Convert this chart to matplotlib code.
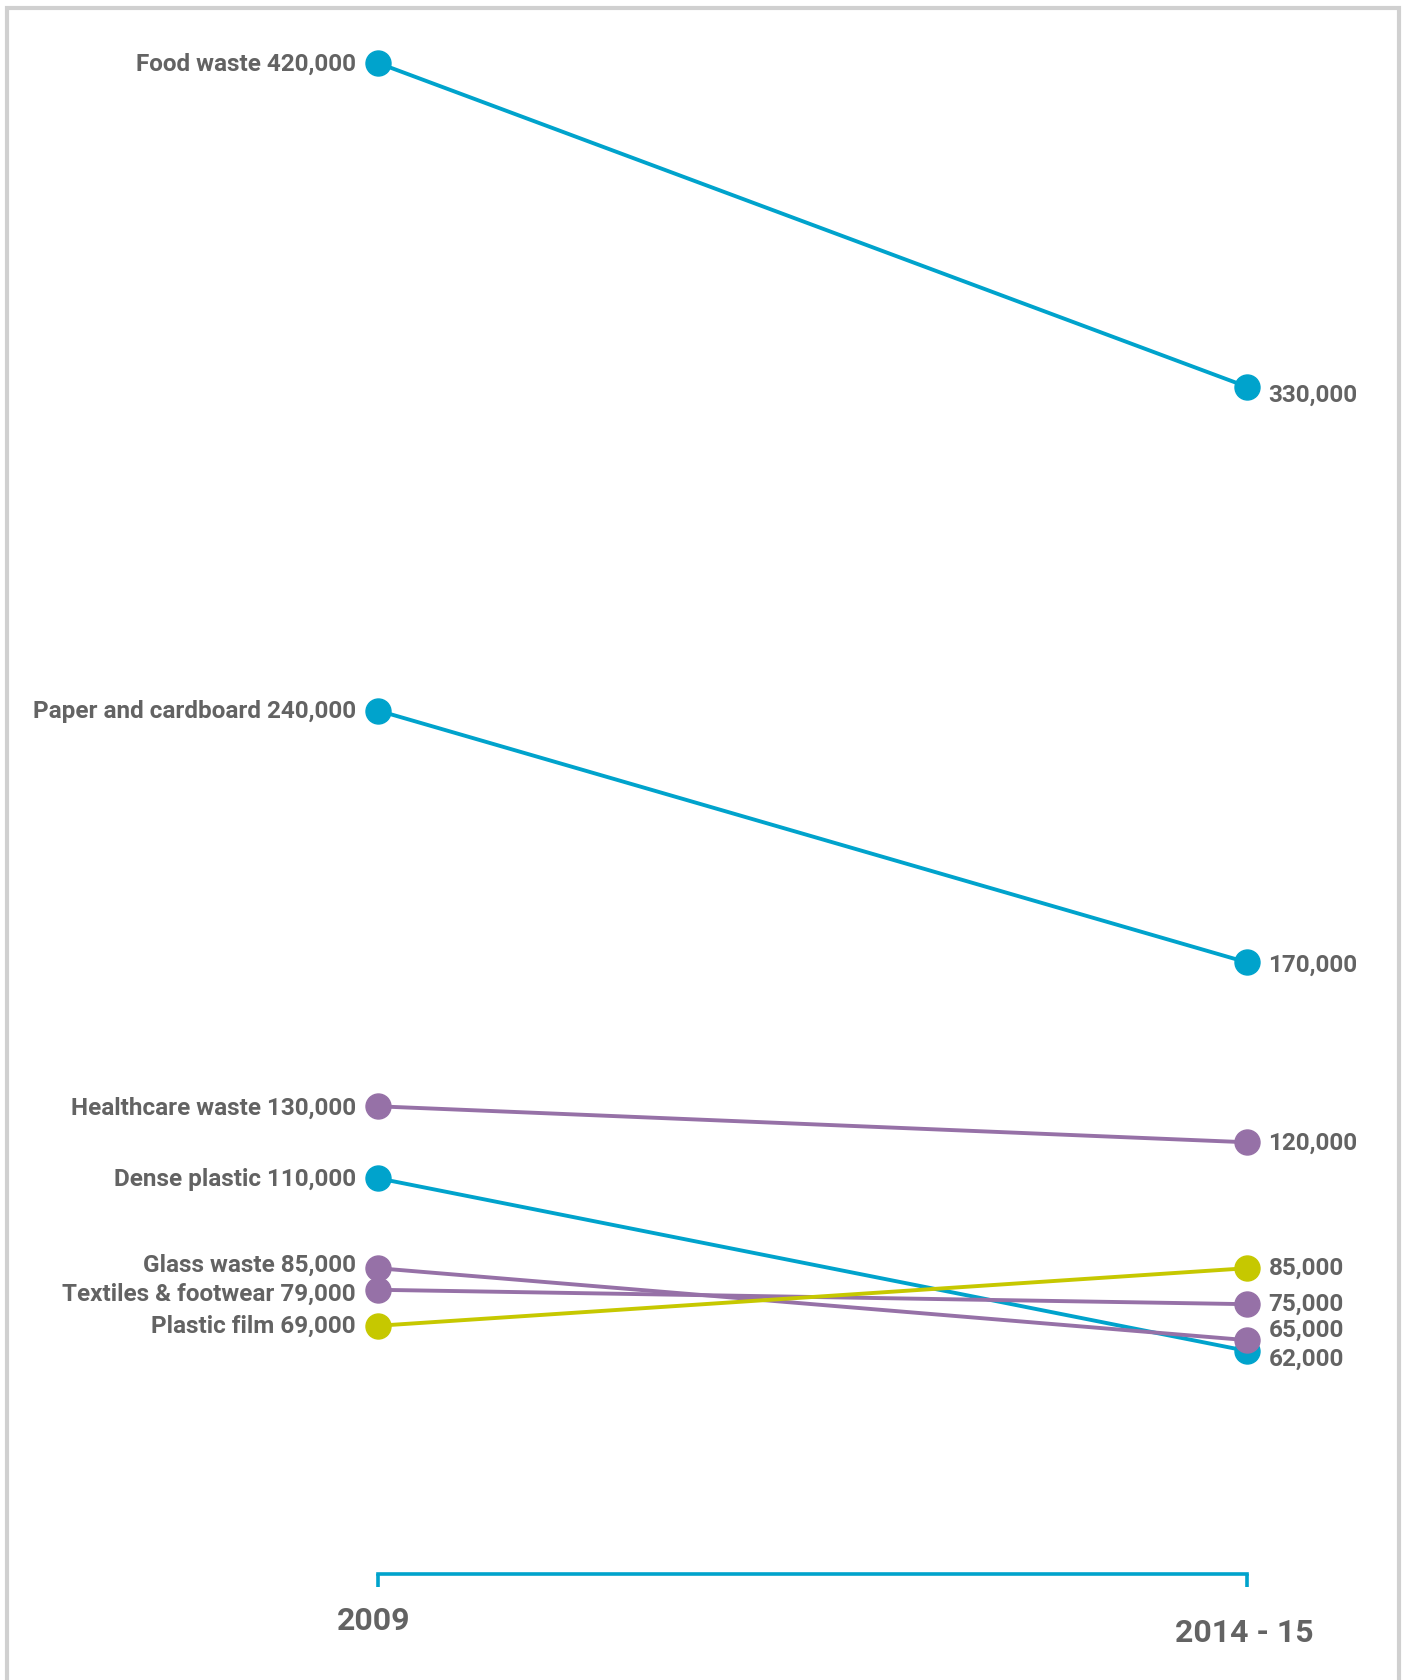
import matplotlib
matplotlib.use("Agg")
import matplotlib.pyplot as plt
from matplotlib.patches import Rectangle

# Waste arisings (tonnes), two survey periods
categories = ["Food waste", "Paper and cardboard", "Healthcare waste", "Dense plastic",
              "Glass waste", "Textiles & footwear", "Plastic film"]
values_2009 = [420000, 240000, 130000, 110000, 85000, 79000, 69000]
values_2015 = [330000, 170000, 120000, 62000, 65000, 75000, 85000]
periods = ["2009", "2014 - 15"]

BLUE = "#00a3cc"
PURPLE = "#9671a7"
LIME = "#c6c800"
TEXT = "#636363"
colors = [BLUE, BLUE, PURPLE, BLUE, PURPLE, PURPLE, LIME]

# vertical nudges (points) for labels that would otherwise collide
left_nudge = [0, 0, -1, 0, 3, -2.5, 0.5]
right_nudge = [-5.5, -1, 0, -5, 8, 1, 1]

plt.rcParams["font.family"] = ["Roboto", "DejaVu Sans"]

W, H = 1405, 1681
fig = plt.figure(figsize=(W / 100, H / 100), dpi=100)
fig.patch.set_facecolor("white")

# light grey frame (open at the bottom edge of the image)
fig.patches.append(Rectangle((7 / W, -0.05), (1399 - 7) / W, 1.05 - 8.5 / H,
                             transform=fig.transFigure, fill=False,
                             edgecolor="#d0d0d0", linewidth=3.0))

ax = fig.add_axes([378 / W, (H - 1575) / H, (1247 - 378) / W, (1575 - 64) / H])
ax.set_xlim(0, 1)
ax.set_ylim(0, 420000)

for i, name in enumerate(categories):
    c = colors[i]
    v0, v1 = values_2009[i], values_2015[i]
    ax.plot([0, 1], [v0, v1], color=c, linewidth=2.8, zorder=2,
            solid_capstyle="round", clip_on=False)
    ax.plot([0, 1], [v0, v1], linestyle="none", marker="o", markersize=18,
            markerfacecolor=c, markeredgecolor=c, zorder=3 + i * 0.01, clip_on=False)
    ax.annotate(f"{name} {v0:,}", xy=(0, v0), xytext=(-16, left_nudge[i]),
                textcoords="offset points", ha="right", va="center",
                fontsize=17.5, fontweight="bold", color=TEXT)
    ax.annotate(f"{v1:,}", xy=(1, v1), xytext=(15.5, right_nudge[i]),
                textcoords="offset points", ha="left", va="center",
                fontsize=17.5, fontweight="bold", color=TEXT)

# period bracket along the bottom
for s in ["top", "left", "right"]:
    ax.spines[s].set_visible(False)
ax.spines["bottom"].set_color(BLUE)
ax.spines["bottom"].set_linewidth(2.6)
ax.spines["bottom"].set_bounds(0, 1)
ax.set_yticks([])
ax.set_xticks([0, 1])
ax.tick_params(axis="x", direction="out", length=9, width=2.6, color=BLUE,
               labelbottom=False)
ax.set_facecolor("none")

ax.annotate(periods[0], xy=(0, 0), xytext=(-3, -33), textcoords="offset points",
            ha="center", va="center", fontsize=23, fontweight="bold", color=TEXT,
            annotation_clip=False)
ax.annotate(periods[1], xy=(1, 0), xytext=(-2, -42), textcoords="offset points",
            ha="center", va="center", fontsize=23, fontweight="bold", color=TEXT,
            annotation_clip=False)

fig.savefig("out.png", dpi=100, facecolor="white")
